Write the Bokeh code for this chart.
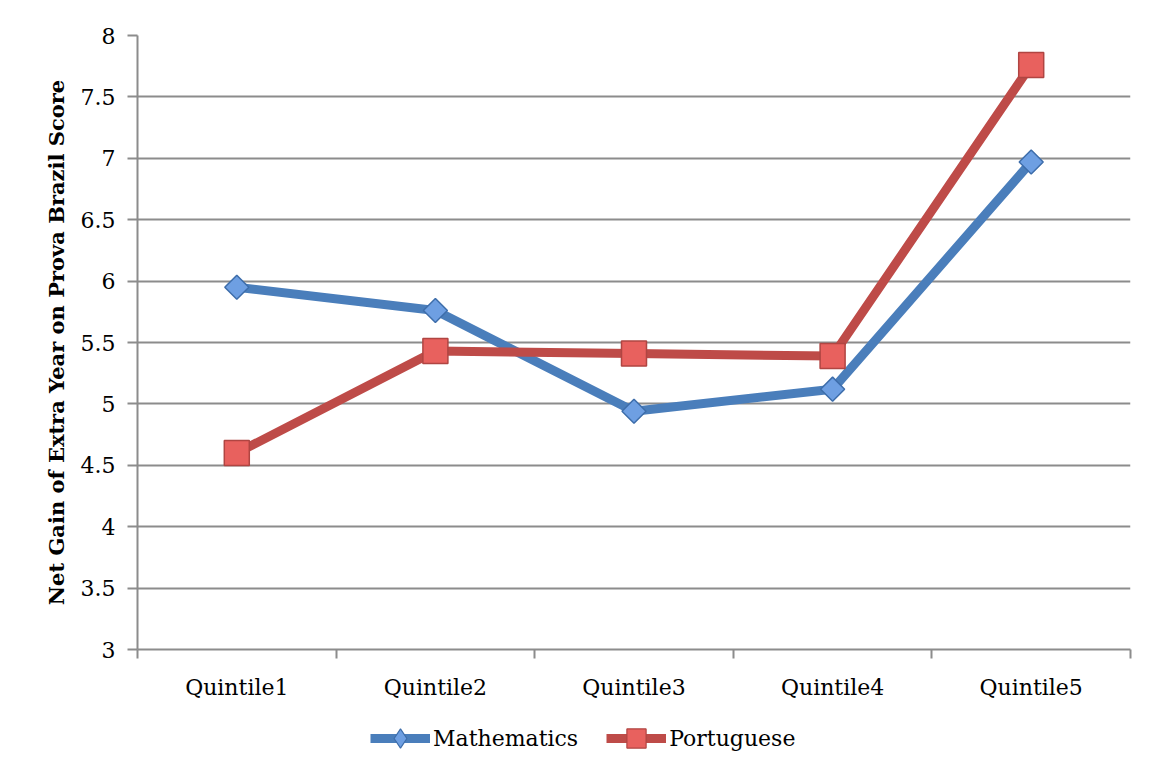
import math
from bokeh.plotting import figure
from bokeh.layouts import column
from bokeh.models import FixedTicker, Legend, LegendItem, ColumnDataSource
from bokeh.embed import file_html
from bokeh.resources import INLINE

categories = ["Quintile1", "Quintile2", "Quintile3", "Quintile4", "Quintile5"]
mathematics = [5.95, 5.76, 4.94, 5.12, 6.97]
portuguese = [4.60, 5.43, 5.41, 5.39, 7.76]
y_ticks = [3, 3.5, 4, 4.5, 5, 5.5, 6, 6.5, 7, 7.5, 8]

FONT = "DejaVu Serif"
GRID = "#8c8c8c"
MATH_LINE, MATH_FILL, MATH_EDGE = "#4A7EBB", "#6E9FE2", "#3D6DAA"
PORT_LINE, PORT_FILL, PORT_EDGE = "#BE4B48", "#E8615E", "#B04542"

xpos = [i + 0.5 for i in range(len(categories))]
src = ColumnDataSource(dict(x=xpos, m=mathematics, p=portuguese))

p = figure(width=1153, height=709, output_backend="svg", toolbar_location=None,
           x_range=(0, len(categories)), y_range=(3, 8),
           min_border_left=137, min_border_right=23, min_border_top=35, min_border_bottom=60)
p.outline_line_color = None
p.background_fill_color = "white"

# x axis
p.xaxis.ticker = FixedTicker(ticks=xpos, minor_ticks=list(range(len(categories) + 1)))
p.xaxis.major_label_overrides = {x: c for x, c in zip(xpos, categories)}
p.xaxis.major_tick_out = 0
p.xaxis.major_tick_in = 0
p.xaxis.minor_tick_out = 9
p.xaxis.minor_tick_in = 0
p.xaxis.minor_tick_line_color = GRID
p.xaxis.minor_tick_line_width = 2
p.xaxis.axis_line_color = GRID
p.xaxis.axis_line_width = 2
p.xaxis.major_label_text_font = FONT
p.xaxis.major_label_text_font_size = "22px"
p.xaxis.major_label_text_color = "black"
p.xaxis.major_label_standoff = 16

# y axis
p.yaxis.ticker = FixedTicker(ticks=y_ticks, minor_ticks=[])
p.yaxis.major_tick_out = 10
p.yaxis.major_tick_in = 0
p.yaxis.major_tick_line_color = GRID
p.yaxis.major_tick_line_width = 2
p.yaxis.axis_line_color = GRID
p.yaxis.axis_line_width = 2
p.yaxis.major_label_text_font = FONT
p.yaxis.major_label_text_font_size = "22px"
p.yaxis.major_label_text_color = "black"
p.yaxis.major_label_standoff = 12
p.yaxis.axis_label = "Net Gain of Extra Year on Prova Brazil Score"
p.yaxis.axis_label_text_font = FONT
p.yaxis.axis_label_text_font_style = "bold"
p.yaxis.axis_label_text_font_size = "21px"
p.yaxis.axis_label_text_color = "black"
p.yaxis.axis_label_standoff = 9

p.xgrid.grid_line_color = None
p.ygrid.grid_line_color = GRID
p.ygrid.grid_line_width = 2

p.line("x", "m", source=src, line_color=MATH_LINE, line_width=9)
p.scatter("x", "m", source=src, marker="square", angle=math.pi / 4, size=17,
          fill_color=MATH_FILL, line_color=MATH_EDGE, line_width=1.5)
p.line("x", "p", source=src, line_color=PORT_LINE, line_width=9)
p.scatter("x", "p", source=src, marker="square", size=25,
          fill_color=PORT_FILL, line_color=PORT_EDGE, line_width=1.5)

# legend strip below the chart (renderers out of view, used for legend glyphs only)
q = figure(width=1153, height=66, output_backend="svg", toolbar_location=None,
           x_range=(0, len(categories)), y_range=(100, 101),
           x_axis_type=None, y_axis_type=None,
           min_border_left=0, min_border_right=0, min_border_top=0, min_border_bottom=0)
q.outline_line_color = None
q.xgrid.grid_line_color = None
q.ygrid.grid_line_color = None
lm = q.line("x", "m", source=src, line_color=MATH_LINE, line_width=9)
sm = q.scatter("x", "m", source=src, marker="diamond", size=18,
               fill_color=MATH_FILL, line_color=MATH_EDGE, line_width=1.2)
lp = q.line("x", "p", source=src, line_color=PORT_LINE, line_width=9)
sp = q.scatter("x", "p", source=src, marker="square", size=18,
               fill_color=PORT_FILL, line_color=PORT_EDGE, line_width=1.2)

legend = Legend(items=[LegendItem(label="Mathematics", renderers=[lm, sm]),
                       LegendItem(label="Portuguese", renderers=[lp, sp])],
                orientation="horizontal", location=(233, 13),
                glyph_width=60, glyph_height=48, label_text_font=FONT,
                label_text_font_size="22px", label_text_color="black",
                label_standoff=3, spacing=28,
                border_line_color=None, background_fill_alpha=0, padding=0, margin=0)
q.add_layout(legend, "center")

open("out.html", "w").write(file_html(column(p, q), INLINE))
